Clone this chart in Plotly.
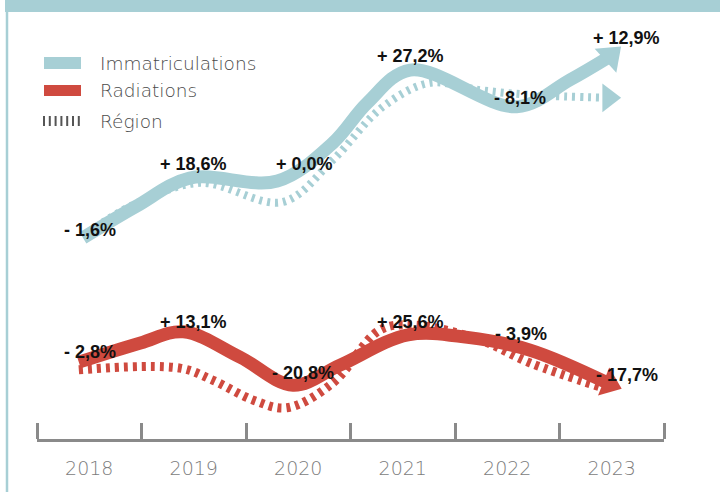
import plotly.graph_objects as go

# ---- data ----
years = [2018, 2019, 2020, 2021, 2022, 2023]
year_labels = ["2018", "2019", "2020", "2021", "2022", "2023"]

# Immatriculations (solid teal) path
imm_x = [2017.94, 2018.45, 2018.96, 2019.80, 2020.33, 2020.66, 2021.07, 2022.09, 2022.60, 2022.99]
imm_y = [47.1, 54.5, 61.1, 60.4, 69.3, 78.7, 86.4, 77.8, 84.1, 89.7]

# Région (dashed teal) path
imm_reg_x = [2017.94, 2018.42, 2019.06, 2019.85, 2020.33, 2020.81, 2021.26, 2021.74, 2022.22, 2022.97]
imm_reg_y = [47.5, 54.8, 60.0, 55.5, 65.3, 77.8, 83.4, 81.7, 80.6, 79.9]

# Radiations (solid red) path
rad_x = [2017.90, 2018.49, 2018.90, 2019.44, 2019.95, 2020.40, 2021.05, 2021.62, 2022.22, 2022.98]
rad_y = [18.0, 22.5, 25.1, 19.2, 12.6, 17.3, 24.4, 23.8, 20.8, 12.9]

# Région (dashed red) path
rad_reg_x = [2017.90, 2018.87, 2019.18, 2019.57, 2019.89, 2020.33, 2020.78, 2021.10, 2021.74, 2022.22, 2022.89]
rad_reg_y = [16.2, 16.6, 13.8, 9.1, 7.3, 13.1, 25.5, 26.7, 23.2, 17.8, 12.2]

imm_labels = ["- 1,6%", "+ 18,6%", "+ 0,0%", "+ 27,2%", "- 8,1%", "+ 12,9%"]
rad_labels = ["- 2,8%", "+ 13,1%", "- 20,8%", "+ 25,6%", "- 3,9%", "- 17,7%"]

legend_names = ["Immatriculations", "Radiations", "Région"]

# ---- styles / layout positions ----
TEAL = "#a7cfd5"
RED = "#cf4a3f"
imm_label_pos = [(2018.01, 48.9), (2019.0, 64.4), (2020.06, 64.4), (2021.07, 89.7), (2022.12, 79.9), (2023.14, 93.9)]
rad_label_pos = [(2018.01, 20.4), (2019.0, 27.4), (2020.05, 15.5), (2021.07, 27.4), (2022.13, 24.6), (2023.15, 15.0)]

W, H = 720, 492


def arrow_marker(n, size, angle, color):
    return dict(size=[0] * (n - 1) + [size], symbol="triangle-up",
                angle=[0] * (n - 1) + [angle], color=color, opacity=1, line=dict(width=0))


fig = go.Figure()

# dashed teal (région)
fig.add_trace(go.Scatter(x=imm_reg_x, y=imm_reg_y, mode="lines+markers",
                         line=dict(color=TEAL, width=8, dash="3px,5px", shape="spline", smoothing=1.0),
                         marker=arrow_marker(len(imm_reg_x), 25, 90, TEAL), hoverinfo="skip", cliponaxis=False))
# solid teal
fig.add_trace(go.Scatter(x=imm_x, y=imm_y, mode="lines+markers",
                         line=dict(color=TEAL, width=13, shape="spline", smoothing=1.0),
                         marker=arrow_marker(len(imm_x), 28, 48, TEAL), hoverinfo="skip", cliponaxis=False))
# dashed red (région)
fig.add_trace(go.Scatter(x=rad_reg_x, y=rad_reg_y, mode="lines",
                         line=dict(color=RED, width=9, dash="4px,5px", shape="spline", smoothing=1.0),
                         hoverinfo="skip", cliponaxis=False))
# solid red
fig.add_trace(go.Scatter(x=rad_x, y=rad_y, mode="lines+markers",
                         line=dict(color=RED, width=13, shape="spline", smoothing=1.0),
                         marker=arrow_marker(len(rad_x), 26, 112, RED), hoverinfo="skip", cliponaxis=False))

annotations = []
lab_font = dict(family="Liberation Sans, Arial, sans-serif", size=18, color="#111111", weight="bold")
for txt, (x, y) in zip(imm_labels + rad_labels, imm_label_pos + rad_label_pos):
    annotations.append(dict(x=x, y=y, xref="x", yref="y", text=txt, showarrow=False,
                            font=lab_font, xanchor="center", yanchor="middle"))

# legend (manual)
leg_font = dict(family="DejaVu Sans, sans-serif", size=18.5, color="#4a4a4a", weight=200)
leg_y = [63, 91, 121]
for name, py in zip(legend_names, leg_y):
    annotations.append(dict(x=98 / W, y=1 - py / H, xref="paper", yref="paper", text=name,
                            showarrow=False, font=leg_font, xanchor="left", yanchor="middle"))

shapes = [
    # top band
    dict(type="rect", xref="paper", yref="paper", x0=5 / W, x1=1, y0=1 - 12 / H, y1=1,
         fillcolor=TEAL, line=dict(width=0), layer="below"),
    # left border
    dict(type="line", xref="paper", yref="paper", x0=7 / W, x1=7 / W, y0=0, y1=1,
         line=dict(color=TEAL, width=2.5), layer="below"),
    # legend swatches
    dict(type="rect", xref="paper", yref="paper", x0=44 / W, x1=81 / W, y0=1 - 69 / H, y1=1 - 57 / H,
         fillcolor=TEAL, line=dict(width=0)),
    dict(type="rect", xref="paper", yref="paper", x0=44 / W, x1=81 / W, y0=1 - 96 / H, y1=1 - 85 / H,
         fillcolor=RED, line=dict(width=0)),
    dict(type="line", xref="paper", yref="paper", x0=43 / W, x1=81 / W, y0=1 - 121 / H, y1=1 - 121 / H,
         line=dict(color="#555555", width=10, dash="2px,3.8px")),
]

fig.update_layout(
    width=W, height=H, margin=dict(l=0, r=0, t=0, b=0),
    paper_bgcolor="white", plot_bgcolor="white", showlegend=False,
    annotations=annotations, shapes=shapes,
    xaxis=dict(domain=[37 / W, 664 / W], range=[2017.5, 2023.5], showgrid=False, zeroline=False,
               showline=True, linecolor="#8a8a8a", linewidth=2.5,
               tickvals=years, ticktext=year_labels, ticks="",
               tickfont=dict(family="DejaVu Sans, sans-serif", size=19, color="#7c7c7c", weight=300),
               ticklabelstandoff=10,
               minor=dict(tickvals=[2017.5 + i for i in range(7)], ticks="inside", ticklen=16,
                          tickwidth=2.5, tickcolor="#8a8a8a", showgrid=False)),
    yaxis=dict(domain=[(H - 439) / H, (H - 12) / H], range=[0, 100], visible=False),
)

fig.write_html("out.html", config={"displayModeBar": False},
               post_script="document.body.style.margin='0';document.body.style.overflow='hidden';")
